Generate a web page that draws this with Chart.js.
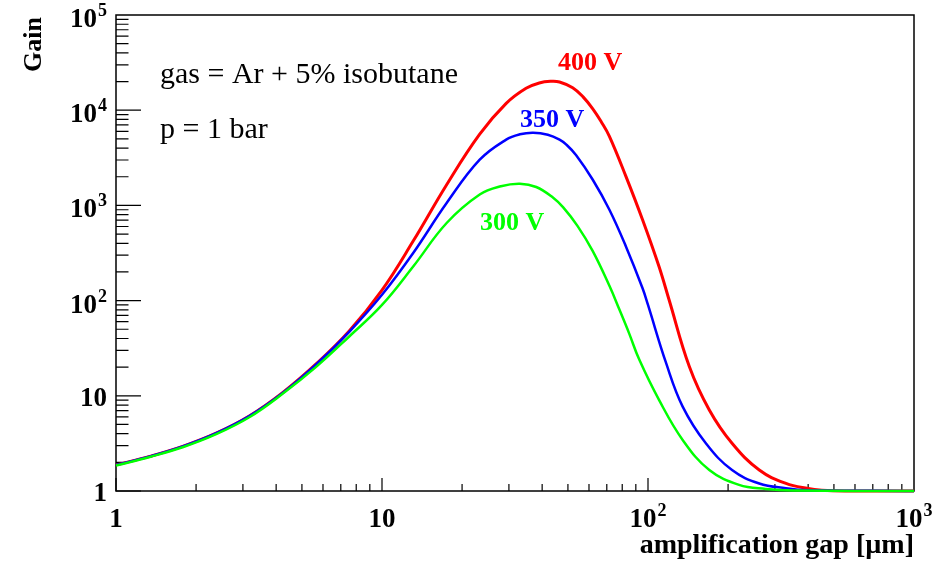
<!DOCTYPE html>
<html>
<head>
<meta charset="utf-8">
<script src="https://cdn.jsdelivr.net/npm/chart.js@4.4.1/dist/chart.umd.min.js"></script>
<style>
  body { margin: 0; background: #fff; }
  #wrap { width: 949px; height: 563px; }
</style>
</head>
<body>
<div id="wrap"><canvas id="gainChart" width="949" height="563"></canvas></div>
<script>
// gap in um, gain
var gap400 = [1, 1.34, 1.78, 2.38, 3.17, 4.23, 5.64, 7.53, 10, 13.1, 17.5, 23.3, 29.3, 34.8, 39, 43, 46.5, 52.1, 57, 62, 66.7, 71.6, 82.6, 95.4, 110, 120, 143, 170, 207, 262, 330, 400, 450, 550, 1000];
var gain400 = [1.88, 2.31, 2.94, 4.05, 6.14, 10.8, 21.5, 48, 129, 422, 1650, 5600, 11800, 17000, 19300, 20100, 19800, 17200, 13800, 10350, 7570, 5320, 2020, 707, 228, 102, 20.3, 7.1, 3.17, 1.66, 1.2, 1.06, 1.02, 1.0, 1];

var gap350 = [1, 1.34, 1.78, 2.38, 3.17, 4.23, 5.64, 7.53, 10, 13.1, 17.5, 23.3, 29.3, 33, 37, 42, 46.5, 49.2, 53.7, 62, 71.6, 82.6, 95.4, 100, 117, 135, 165, 207, 262, 330, 400, 1000];
var gain350 = [1.88, 2.31, 2.94, 4.05, 6.12, 10.7, 21.2, 47, 115, 316, 1060, 3020, 4910, 5580, 5800, 5520, 4910, 4375, 3370, 1860, 901, 371, 135, 90, 22, 7.7, 3.17, 1.66, 1.2, 1.07, 1.02, 1];

var gap300 = [1, 1.34, 1.78, 2.38, 3.17, 4.23, 5.64, 7.53, 10, 13.1, 17.5, 23.3, 28, 33, 38, 43.9, 48, 54.3, 62, 71.6, 78, 85, 92.7, 110, 135, 170, 220, 277, 350, 1000];
var gain300 = [1.85, 2.28, 2.88, 3.95, 5.95, 10.5, 20, 42, 90, 228, 653, 1300, 1590, 1690, 1560, 1210, 953, 610, 331, 143, 81, 45, 24, 9.06, 3.44, 1.66, 1.16, 1.05, 1.01, 1];

var xDecades = [0, 1, 2, 3];
var yDecades = [0, 1, 2, 3, 4, 5];

function toPoints(xs, ys) {
    var pts = [];
    for (var i = 0; i < xs.length; i++) {
        pts.push({ x: xs[i], y: ys[i] });
    }
    return pts;
}

var serif = "'Liberation Serif', 'Times New Roman', serif";

// draws "1", "10" or "10^n" with the exponent raised
function powerLabel(ctx, e, x, y, align) {
    var base = e === 0 ? "1" : "10";
    var sup = e >= 2 ? String(e) : "";
    ctx.font = "bold 27px " + serif;
    var wb = ctx.measureText(base).width;
    ctx.font = "bold 18px " + serif;
    var ws = sup ? ctx.measureText(sup).width + 1 : 0;
    var total = wb + ws;
    var left = align === "right" ? x - total : x - total / 2;
    ctx.textAlign = "left";
    ctx.textBaseline = "alphabetic";
    ctx.font = "bold 27px " + serif;
    ctx.fillText(base, left, y);
    if (sup) {
        ctx.font = "bold 18px " + serif;
        ctx.fillText(sup, left + wb + 1, y - 11);
    }
}

var framePlugin = {
    id: "rootFrame",
    beforeDatasetsDraw: function(chart) {
        var ctx = chart.ctx;
        var xs = chart.scales.x, ys = chart.scales.y;
        var a = chart.chartArea;
        ctx.save();
        ctx.strokeStyle = "#000";
        ctx.lineWidth = 1.5;
        ctx.strokeRect(a.left, a.top, a.right - a.left, a.bottom - a.top);

        ctx.lineWidth = 1.2;
        ctx.beginPath();
        // y ticks on the left, pointing inward
        for (var e = 0; e < 5; e++) {
            for (var m = 1; m <= 9; m++) {
                var py = ys.getPixelForValue(m * Math.pow(10, e));
                var len = m === 1 ? 25 : 12.5;
                ctx.moveTo(a.left, py);
                ctx.lineTo(a.left + len, py);
            }
        }
        // x ticks on the bottom, pointing up
        for (var e2 = 0; e2 < 3; e2++) {
            for (var m2 = 1; m2 <= 9; m2++) {
                var px = xs.getPixelForValue(m2 * Math.pow(10, e2));
                var len2 = m2 === 1 ? 13 : 7;
                ctx.moveTo(px, a.bottom);
                ctx.lineTo(px, a.bottom - len2);
            }
        }
        ctx.stroke();
        ctx.restore();
    },
    afterDraw: function(chart) {
        var ctx = chart.ctx;
        var xs = chart.scales.x, ys = chart.scales.y;
        var a = chart.chartArea;
        ctx.save();
        ctx.fillStyle = "#000";

        yDecades.forEach(function(e) {
            var py = ys.getPixelForValue(Math.pow(10, e));
            powerLabel(ctx, e, 107, py + (e >= 2 ? 12 : 10), "right");
        });
        xDecades.forEach(function(e) {
            var px = xs.getPixelForValue(Math.pow(10, e));
            powerLabel(ctx, e, px, 527, "center");
        });

        // axis titles
        ctx.font = "bold 28px " + serif;
        ctx.textAlign = "right";
        ctx.fillText("amplification gap [\u00b5m]", a.right, 553);

        ctx.save();
        ctx.translate(41, 17);
        ctx.rotate(-Math.PI / 2);
        ctx.font = "bold 26px " + serif;
        ctx.textAlign = "right";
        ctx.fillText("Gain", 0, 0);
        ctx.restore();

        // annotations
        ctx.textAlign = "left";
        ctx.font = "30px " + serif;
        ctx.fillText("gas = Ar + 5% isobutane", 160, 83);
        ctx.fillText("p = 1 bar", 160, 138);

        ctx.font = "bold 26px " + serif;
        ctx.fillStyle = "#ff0000";
        ctx.fillText("400 V", 558, 70);
        ctx.fillStyle = "#0000ff";
        ctx.fillText("350 V", 520, 127);
        ctx.fillStyle = "#00ff00";
        ctx.fillText("300 V", 480, 230);
        ctx.restore();
    }
};

new Chart(document.getElementById("gainChart").getContext("2d"), {
    type: "line",
    data: {
        datasets: [{
            label: "400 V",
            data: toPoints(gap400, gain400),
            borderColor: "#ff0000",
            borderWidth: 3,
            order: 3
        }, {
            label: "350 V",
            data: toPoints(gap350, gain350),
            borderColor: "#0000ff",
            borderWidth: 2.5,
            order: 2
        }, {
            label: "300 V",
            data: toPoints(gap300, gain300),
            borderColor: "#00ff00",
            borderWidth: 2.5,
            order: 1
        }]
    },
    options: {
        responsive: false,
        animation: false,
        devicePixelRatio: 1,
        clip: false,
        layout: { padding: { top: 15, right: 35, left: 0, bottom: 0 } },
        elements: {
            point: { radius: 0 },
            line: { tension: 0.4, capBezierPoints: true, fill: false }
        },
        plugins: {
            legend: { display: false },
            tooltip: { enabled: false }
        },
        scales: {
            x: {
                type: "logarithmic",
                min: 1,
                max: 1000,
                ticks: { display: false },
                grid: { display: false },
                border: { display: false },
                afterFit: function(s) { s.height = 72; }
            },
            y: {
                type: "logarithmic",
                min: 1,
                max: 100000,
                ticks: { display: false },
                grid: { display: false },
                border: { display: false },
                afterFit: function(s) { s.width = 116; }
            }
        }
    },
    plugins: [framePlugin]
});
</script>
</body>
</html>
